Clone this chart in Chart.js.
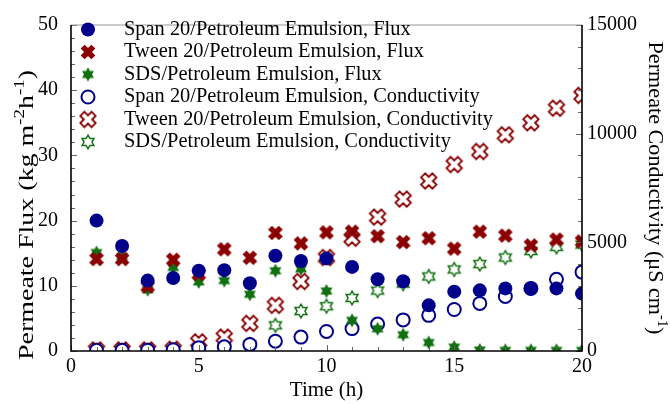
<!DOCTYPE html>
<html><head><meta charset="utf-8">
<script src="https://cdn.jsdelivr.net/npm/chart.js@4.4.1/dist/chart.umd.min.js"></script>
<style>html,body{margin:0;padding:0;background:#fff;}#wrap{width:670px;height:404px;}</style>
</head><body><div id="wrap"><canvas id="c" width="670" height="404"></canvas></div>
<script>
// ---------- data ----------
const timeH = [1,2,3,4,5,6,7,8,9,10,11,12,13,14,15,16,17,18,19,20];
const spanFlux  = [20.0,16.1,10.8,11.2,12.3,12.4,10.4,14.6,13.8,14.2,12.9,11.0,10.7,7.0,9.1,9.3,9.6,9.6,9.6,8.8];
const tweenFlux = [14.1,14.1,9.9,14.0,11.8,15.6,14.3,18.1,16.5,18.2,18.3,17.6,16.7,17.3,15.7,18.3,17.7,16.2,17.1,16.8];
const sdsFlux   = [15.1,14.5,9.4,12.8,10.6,10.8,8.7,12.3,12.6,9.2,4.7,3.4,2.5,1.3,0.6,0.15,0.1,0.1,0.1,0.1];
const spanCond  = [30,30,40,60,150,190,300,450,640,900,1030,1240,1430,1640,1910,2190,2510,2880,3300,3630];
const tweenCond = [50,50,50,80,420,640,1270,2100,3200,4300,5190,6160,6990,7820,8580,9180,9950,10500,11170,11760];
const sdsCond   = [20,20,30,40,60,150,300,1180,1840,2060,2440,2780,3100,3430,3750,4000,4300,4600,4790,4900];
const seriesLabels = [
  'Span 20/Petroleum Emulsion, Flux',
  'Tween 20/Petroleum Emulsion, Flux',
  'SDS/Petroleum Emulsion, Flux',
  'Span 20/Petroleum Emulsion, Conductivity',
  'Tween 20/Petroleum Emulsion, Conductivity',
  'SDS/Petroleum Emulsion, Conductivity'
];
const fluxTicks = [0,10,20,30,40,50];
const condTicks = [0,5000,10000,15000];
const timeTicks = [0,5,10,15,20];

// ---------- styles ----------
const FONT = "'Liberation Serif','Times New Roman',serif";
const BLUE = '#00008b', RED = '#8b0000', GREEN = '#107010';

function mk(size, draw){
  const c = document.createElement('canvas'); c.width = size; c.height = size;
  const g = c.getContext('2d'); g.translate(size/2, size/2); draw(g); return c;
}
function xPath(g, w, L){
  const pts = [[w,L],[w,w],[L,w],[L,-w],[w,-w],[w,-L],[-w,-L],[-w,-w],[-L,-w],[-L,w],[-w,w],[-w,L]];
  const a = Math.PI/4; g.beginPath();
  pts.forEach((p,i)=>{ const x=p[0]*Math.cos(a)-p[1]*Math.sin(a), y=p[0]*Math.sin(a)+p[1]*Math.cos(a); i?g.lineTo(x,y):g.moveTo(x,y); });
  g.closePath();
}
function starPath(g, R){
  const r = R/Math.sqrt(3); g.beginPath();
  for (let i=0;i<12;i++){ const ang=-Math.PI/2+i*Math.PI/6, rad=i%2?r:R; const x=rad*Math.cos(ang), y=rad*Math.sin(ang); i?g.lineTo(x,y):g.moveTo(x,y); }
  g.closePath();
}
const filledX = mk(18, g=>{ xPath(g,2.8,7.6); g.fillStyle=RED; g.fill(); });
const openX   = mk(20, g=>{ xPath(g,2.9,8.0); g.fillStyle='#fff'; g.fill(); g.lineWidth=1.8; g.strokeStyle=RED; g.stroke(); });
const filledStar = mk(16, g=>{ starPath(g,6.9); g.fillStyle=GREEN; g.fill(); });
const openStar   = mk(18, g=>{ starPath(g,6.8); g.fillStyle='#fff'; g.fill(); g.lineWidth=1.5; g.strokeStyle=GREEN; g.stroke(); });

const pts = arr => timeH.map((t,i)=>({x:t, y:arr[i]}));
const base = {showLine:false, clip:0, pointHoverRadius:7};
const datasets = [
  {...base, label:seriesLabels[0], data:pts(spanFlux), yAxisID:'y', pointStyle:'circle', pointRadius:7, pointBackgroundColor:BLUE, pointBorderColor:BLUE, pointBorderWidth:0},
  {...base, label:seriesLabels[1], data:pts(tweenFlux), yAxisID:'y', pointStyle:filledX, pointRadius:8},
  {...base, label:seriesLabels[2], data:pts(sdsFlux), yAxisID:'y', pointStyle:filledStar, pointRadius:7},
  {...base, label:seriesLabels[3], data:pts(spanCond), yAxisID:'y2', pointStyle:'circle', pointRadius:6.5, pointBackgroundColor:'#fff', pointBorderColor:BLUE, pointBorderWidth:2},
  {...base, label:seriesLabels[4], data:pts(tweenCond), yAxisID:'y2', pointStyle:openX, pointRadius:8},
  {...base, label:seriesLabels[5], data:pts(sdsCond), yAxisID:'y2', pointStyle:openStar, pointRadius:7}
];

// ---------- helpers for rich text ----------
// draws text with superscripts; optional target length stretches the text along its reading direction
function drawRich(ctx, parts, cx, cy, angle, size, supScale, targetLen){
  const subSize = size*(supScale||0.65);
  let total = 0;
  parts.forEach(p=>{ ctx.font = (p.sup?subSize:size)+'px '+FONT; p.w = ctx.measureText(p.t).width; total += p.w; });
  ctx.save(); ctx.translate(cx,cy); ctx.rotate(angle);
  if (targetLen) ctx.scale(targetLen/total, 1);
  ctx.fillStyle='#000'; ctx.textBaseline='middle'; ctx.textAlign='left';
  let x = -total/2;
  parts.forEach(p=>{ ctx.font=(p.sup?subSize:size)+'px '+FONT; ctx.fillText(p.t, x, p.sup?-size*0.33:0); x+=p.w; });
  ctx.restore();
}

const extras = {
  id:'extras',
  afterDraw(chart){
    const ctx = chart.ctx, a = chart.chartArea;
    const sx = chart.scales.x, sy = chart.scales.y, sy2 = chart.scales.y2;
    ctx.save();
    // minor/major inward ticks
    ctx.strokeStyle='#666'; ctx.lineWidth=1;
    ctx.beginPath();
    for (let v=0; v<=50; v+=2){ const y=Math.round(sy.getPixelForValue(v))+0.5; const l=(v%10===0)?6:4; ctx.moveTo(a.left,y); ctx.lineTo(a.left+l,y); }
    for (let v=0; v<=15000; v+=1000){ const y=Math.round(sy2.getPixelForValue(v))+0.5; const l=(v%5000===0)?6:4; ctx.moveTo(a.right,y); ctx.lineTo(a.right-l,y); }
    for (let v=0; v<=20; v+=1){ const x=Math.round(sx.getPixelForValue(v))+0.5; const l=(v%5===0)?6:4; ctx.moveTo(x,a.bottom); ctx.lineTo(x,a.bottom-l); }
    ctx.stroke();
    // frame
    ctx.strokeStyle='#999'; ctx.lineWidth=1.2;
    ctx.beginPath(); ctx.moveTo(a.left,a.top); ctx.lineTo(a.right,a.top); ctx.stroke();
    ctx.strokeStyle='#000'; ctx.lineWidth=1.6;
    ctx.beginPath(); ctx.moveTo(a.left,a.top); ctx.lineTo(a.left,a.bottom); ctx.lineTo(a.right,a.bottom); ctx.lineTo(a.right,a.top); ctx.stroke();
    // legend
    const lx = 88, tx = 124, ly0 = 29.5, dy = 22.5;
    ctx.font = '20.4px '+FONT; ctx.textBaseline='middle'; ctx.textAlign='left';
    datasets.forEach((d,i)=>{
      const y = ly0 + i*dy;
      if (d.pointStyle === 'circle'){
        ctx.beginPath(); ctx.arc(lx,y,d.pointRadius,0,Math.PI*2);
        ctx.fillStyle=d.pointBackgroundColor; ctx.fill();
        if (d.pointBorderWidth){ ctx.lineWidth=d.pointBorderWidth; ctx.strokeStyle=d.pointBorderColor; ctx.stroke(); }
      } else {
        const im=d.pointStyle; ctx.drawImage(im, lx-im.width/2, y-im.height/2);
      }
      ctx.fillStyle='#000'; ctx.fillText(d.label, tx, y);
    });
    // axis titles
    drawRich(ctx, [{t:'Time (h)'}], (a.left+a.right)/2, 390, 0, 21);
    drawRich(ctx, [{t:'Permeate Flux (kg m'},{t:'-2',sup:true},{t:'h'},{t:'-1',sup:true},{t:')'}], 27, 215, -Math.PI/2, 21, 0.68, 290);
    drawRich(ctx, [{t:'Permeate Conductivity (\u03BCS cm'},{t:'-1',sup:true},{t:')'}], 655, 188, Math.PI/2, 21, 0.65, 293);
    ctx.restore();
  }
};

const tickFont = {family:FONT, size:20};
new Chart(document.getElementById('c'), {
  type:'scatter',
  data:{datasets},
  options:{
    responsive:false, animation:false, devicePixelRatio:1,
    layout:{padding:{top:16,left:0,right:0,bottom:0}},
    plugins:{legend:{display:false}, tooltip:{enabled:false}},
    scales:{
      x:{type:'linear', min:0, max:20,
         afterBuildTicks:s=>{ s.ticks = timeTicks.map(v=>({value:v})); },
         ticks:{font:tickFont, color:'#000', padding:4, maxRotation:0, autoSkip:false, callback:v=>String(v)},
         grid:{display:false, drawTicks:false}, border:{display:false},
         afterFit:s=>{ s.height = 53; }},
      y:{type:'linear', position:'left', min:0, max:50,
         afterBuildTicks:s=>{ s.ticks = fluxTicks.map(v=>({value:v})); },
         ticks:{font:tickFont, color:'#000', padding:13, callback:v=>String(v)},
         grid:{display:false, drawTicks:false}, border:{display:false},
         afterFit:s=>{ s.width = 71; }},
      y2:{type:'linear', position:'right', min:0, max:15000,
         afterBuildTicks:s=>{ s.ticks = condTicks.map(v=>({value:v})); },
         ticks:{font:tickFont, color:'#000', padding:5, callback:v=>String(v)},
         grid:{display:false, drawTicks:false}, border:{display:false},
         afterFit:s=>{ s.width = 88; }}
    }
  },
  plugins:[extras]
});
</script>
</body></html>
